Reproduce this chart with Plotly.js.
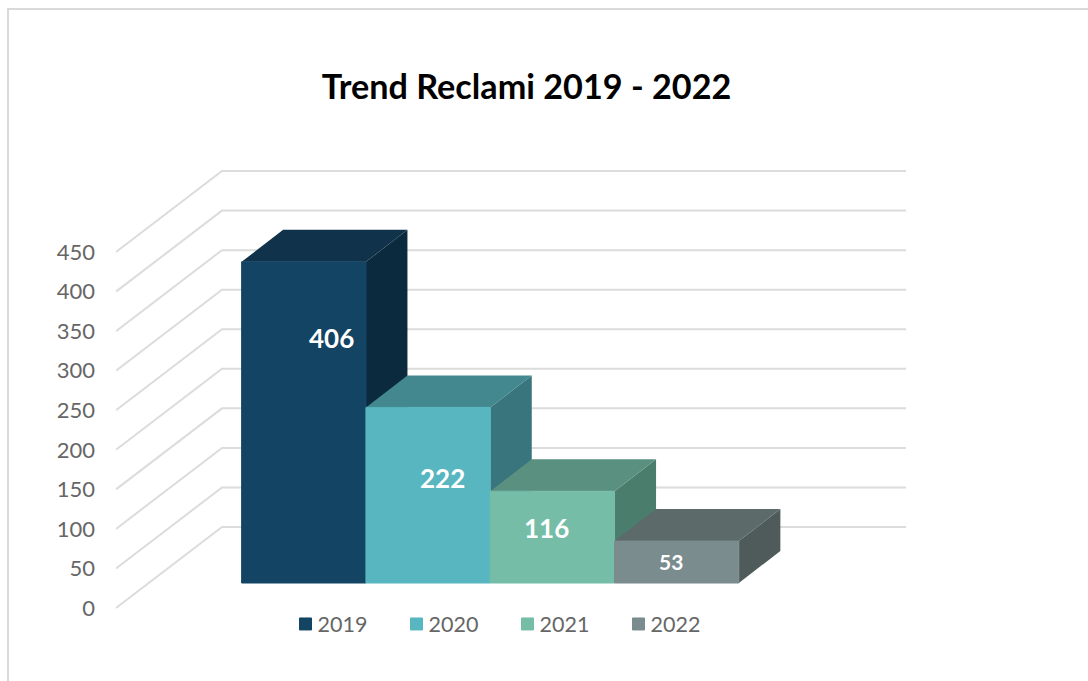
<!DOCTYPE html>
<html>
<head>
<meta charset="utf-8">
<script src="https://cdn.plot.ly/plotly-3.0.1.min.js"></script>
<style>html,body{margin:0;padding:0;background:#fff;overflow:hidden}</style>
</head>
<body>
<div id="chart" style="width:1088px;height:681px"></div>
<script>
// ---- data ----
const years = ['2019', '2020', '2021', '2022'];
const reclami = [406, 222, 116, 53];
const yTicks = [0, 50, 100, 150, 200, 250, 300, 350, 400, 450];

// ---- styles ----
const frontColors = ['#134464', '#58b6c0', '#75bda7', '#7a8c8e'];
const topColors = ['#10324b', '#43878f', '#5a9080', '#5c6a6a'];
const sideColors = ['#0c2a3d', '#38757d', '#4a7d6b', '#4f5b5a'];
const labelSizes = [26, 26, 26, 21];
const labelXShift = [27.5, 14, -5.5, -5.5];
const labelYShift = [-76.5, -71, -37, -20];

// ---- oblique projection geometry ----
const W = 1088, H = 681;
const plotL = 116, plotR = 906, plotT = 150, plotB = 640;
const pxPerUnitX = 124.3, pxPerUnitY = 0.791;
const y0px = 608, firstBarCentrePx = 303.8;
const wallDx = 106 / pxPerUnitX, wallDy = 81 / pxPerUnitY;
const barDx = 41.5 / pxPerUnitX, barDy = 32 / pxPerUnitY;
const floorShift = (y0px - 583) / pxPerUnitY;
const xRange = [(plotL - firstBarCentrePx) / pxPerUnitX, (plotR - firstBarCentrePx) / pxPerUnitX];
const yRange = [(y0px - plotB) / pxPerUnitY, (y0px - plotT) / pxPerUnitY];
const px2paperX = p => (p - plotL) / (plotR - plotL);
const px2paperY = p => (plotB - p) / (plotB - plotT);

const traces = [];
// wall + floor gridlines
const gx = [], gy = [];
yTicks.forEach(t => {
  gx.push(xRange[0], xRange[0] + wallDx, xRange[1], null);
  gy.push(t, t + wallDy, t + wallDy, null);
});
traces.push({type: 'scatter', mode: 'lines', x: gx, y: gy, xaxis: 'x', yaxis: 'y',
  line: {color: '#dcdcdc', width: 2}, showlegend: false, hoverinfo: 'skip'});

// side and top faces, painted left to right beneath the front faces
reclami.forEach((v, i) => {
  const xr = i + 0.5, xl = i - 0.5, b = floorShift, t = floorShift + v;
  traces.push({type: 'scatter', mode: 'lines', fill: 'toself', fillcolor: sideColors[i],
    x: [xr, xr + barDx, xr + barDx, xr, xr], y: [b, b + barDy, t + barDy, t, b],
    line: {width: 0}, showlegend: false, hoverinfo: 'skip', xaxis: 'x', yaxis: 'y'});
  traces.push({type: 'scatter', mode: 'lines', fill: 'toself', fillcolor: topColors[i],
    x: [xl, xl + barDx, xr + barDx, xr, xl], y: [t, t + barDy, t + barDy, t, t],
    line: {width: 0}, showlegend: false, hoverinfo: 'skip', xaxis: 'x', yaxis: 'y'});
});

// front faces
years.forEach((yr, i) => {
  traces.push({type: 'bar', name: yr, x: [i], y: [reclami[i]], width: 1,
    marker: {color: frontColors[i], line: {width: 1, color: frontColors[i]}}, xaxis: 'x', yaxis: 'y2'});
});

const annotations = reclami.map((v, i) => ({
  x: i, y: v, xref: 'x', yref: 'y2', text: String(v), showarrow: false,
  xanchor: 'center', yanchor: 'middle', xshift: labelXShift[i], yshift: labelYShift[i],
  font: {family: 'Lato, sans-serif', size: labelSizes[i], color: '#ffffff', weight: 700}
}));

const layout = {
  width: W, height: H,
  paper_bgcolor: '#ffffff', plot_bgcolor: 'rgba(0,0,0,0)',
  margin: {l: plotL, r: W - plotR, t: plotT, b: H - plotB, pad: 0},
  title: {text: '<b>Trend Reclami 2019 - 2022</b>', x: 526.5 / W, xanchor: 'center',
    y: 1 - 87 / H, yanchor: 'middle',
    font: {family: 'Lato, sans-serif', size: 34.2, color: '#000000'}},
  barmode: 'overlay',
  xaxis: {range: xRange, visible: false, fixedrange: true},
  yaxis: {range: yRange, tickvals: yTicks, ticktext: yTicks.map(String), showgrid: false,
    zeroline: false, showline: false, ticks: '', ticklabelstandoff: 20, automargin: false,
    fixedrange: true, tickfont: {family: 'Lato, sans-serif', size: 22, color: '#666666'}},
  yaxis2: {range: [yRange[0] - floorShift, yRange[1] - floorShift], overlaying: 'y',
    side: 'left', visible: false, fixedrange: true},
  showlegend: true,
  legend: {orientation: 'h', x: px2paperX(285.5), y: px2paperY(624), xanchor: 'left', yanchor: 'middle',
    entrywidth: 66, entrywidthmode: 'pixels', traceorder: 'normal', bgcolor: 'rgba(0,0,0,0)',
    font: {family: 'Lato, sans-serif', size: 21.5, color: '#666666'}},
  shapes: [{type: 'path', xref: 'paper', yref: 'paper',
    path: 'M' + px2paperX(8) + ',' + px2paperY(H) + ' L' + px2paperX(8) + ',' + px2paperY(9) + ' L' + px2paperX(W) + ',' + px2paperY(9),
    line: {color: '#d9d9d9', width: 2}}],
  annotations: annotations
};

Plotly.newPlot('chart', traces, layout, {displayModeBar: false, staticPlot: true}).then(() => {
  // tighten the gap between legend swatch and its label
  document.querySelectorAll('#chart .legendtext').forEach(t => {
    t.setAttribute('x', parseFloat(t.getAttribute('x')) - 8);
  });
});
</script>
</body>
</html>
